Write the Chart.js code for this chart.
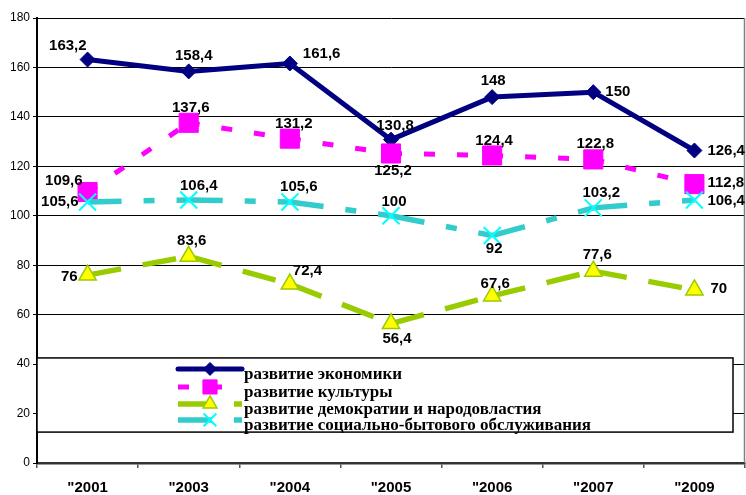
<!DOCTYPE html>
<html>
<head>
<meta charset="utf-8">
<script src="https://cdn.jsdelivr.net/npm/chart.js@4.4.1/dist/chart.umd.min.js"></script>
<style>
  html, body { margin: 0; padding: 0; background: #fff; }
  #wrap { width: 746px; height: 495px; position: relative; }
</style>
</head>
<body>
<div id="wrap"><canvas id="c" width="746" height="495"></canvas></div>
<script>
// ---- data ----
const categories = ['"2001', '"2003', '"2004', '"2005', '"2006', '"2007', '"2009'];
const seriesNames = [
  'развитие экономики',
  'развитие культуры',
  'развитие демократии и народовластия',
  'развитие социально-бытового обслуживания'
];
const economy   = [163.2, 158.4, 161.6, 130.8, 148, 150, 126.4];
const culture   = [109.6, 137.6, 131.2, 125.2, 124.4, 122.8, 112.8];
const democracy = [76, 83.6, 72.4, 56.4, 67.6, 77.6, 70];
const social    = [105.6, 106.4, 105.6, 100, 92, 103.2, 106.4];
const yTicks    = [0, 20, 40, 60, 80, 100, 120, 140, 160, 180];

// ---- label placement (style only: offset from point, alignment) ----
const placeEconomy   = [[-1,-13.5,'right'],[5,-16,'center'],[13,-10,'left'],[4,-14,'center'],[1,-16,'center'],[12,0,'left'],[13,0,'left']];
const placeCulture   = [[-5,-11,'right'],[2,-15,'center'],[4,-15,'center'],[2,17.5,'center'],[2,-14.5,'center'],[2,-15.5,'center'],[13,-1,'left']];
const placeDemocracy = [[-10,2,'right'],[3,-15,'center'],[3,-13,'left'],[6,15,'center'],[3,-12,'center'],[4,-16,'center'],[16,-1,'left']];
const placeSocial    = [[-9,0,'right'],[10,-14,'center'],[9,-15,'center'],[3,-14,'center'],[2,13.5,'center'],[8,-15,'center'],[13,1,'left']];
const placements = [placeEconomy, placeCulture, placeDemocracy, placeSocial];
const legendMarkerRadius = [6.5, 10, 8, 9];

const restartDash = { borderDashOffset: ctx => ctx.p0DataIndex * 0.001 };

const datasets = [
  { label: seriesNames[0], data: economy, borderColor: '#000080', backgroundColor: '#000080',
    borderWidth: 5, pointStyle: 'rectRot', pointRadius: 7.5, pointBorderColor: '#000080',
    pointBackgroundColor: '#000080', pointBorderWidth: 1, borderJoinStyle: 'round', order: 4 },
  { label: seriesNames[1], data: culture, borderColor: '#FF00FF', backgroundColor: '#FF00FF',
    borderWidth: 5, borderDash: [11, 22], borderCapStyle: 'butt', pointStyle: 'rect', pointRadius: 13.5,
    pointBorderColor: '#FF00FF', pointBackgroundColor: '#FF00FF', pointBorderWidth: 1, order: 3,
    segment: restartDash },
  { label: seriesNames[2], data: democracy, borderColor: '#99CC00', backgroundColor: '#FFFF00',
    borderWidth: 5.5, borderDash: [34, 22], borderCapStyle: 'butt', pointStyle: 'triangle', pointRadius: 10,
    pointBorderColor: '#99CC00', pointBackgroundColor: '#FFFF00', pointBorderWidth: 1.5, order: 2,
    segment: restartDash },
  { label: seriesNames[3], data: social, borderColor: '#33CCCC', backgroundColor: '#00FFFF',
    borderWidth: 5.5, borderDash: [34, 22, 11, 22], borderCapStyle: 'butt', pointStyle: 'crossRot', pointRadius: 12,
    pointBorderColor: '#00FFFF', pointBackgroundColor: '#00FFFF', pointBorderWidth: 2, order: 1,
    segment: restartDash }
];

const fmt = v => String(v).replace('.', ',');

const labelsPlugin = {
  id: 'valueLabels',
  afterDatasetsDraw(chart) {
    const ctx = chart.ctx;
    ctx.save();
    ctx.font = 'bold 15px "Liberation Sans", Arial, sans-serif';
    ctx.fillStyle = '#000';
    ctx.textBaseline = 'middle';
    chart.data.datasets.forEach((ds, di) => {
      const meta = chart.getDatasetMeta(di);
      meta.data.forEach((pt, i) => {
        const p = placements[di][i];
        ctx.textAlign = p[2];
        ctx.fillText(fmt(ds.data[i]), pt.x + p[0], pt.y + p[1]);
      });
    });
    ctx.restore();
  }
};

const frameLegendPlugin = {
  id: 'frameLegend',
  afterDatasetsDraw(chart) {
    const ctx = chart.ctx;
    const a = chart.chartArea;
    const ys = chart.scales.y;
    ctx.save();
    // right frame line
    ctx.strokeStyle = '#808080';
    ctx.lineWidth = 1.5;
    ctx.beginPath();
    ctx.moveTo(a.right - 0.5, a.top);
    ctx.lineTo(a.right - 0.5, a.bottom);
    ctx.stroke();

    // legend box
    const bx = a.left, bx2 = a.right - 12;
    const by = ys.getPixelForValue(42.5), by2 = ys.getPixelForValue(12.5);
    ctx.fillStyle = '#fff';
    ctx.fillRect(bx, by, bx2 - bx, by2 - by);
    ctx.strokeStyle = '#000';
    ctx.lineWidth = 1.5;
    ctx.strokeRect(bx, by, bx2 - bx, by2 - by);

    const sx0 = bx + 141, sx1 = bx + 205, mx = bx + 173;
    const rowY = [by + 11, by + 29, by + 46, by + 62];
    chart.data.datasets.forEach((ds, di) => {
      const y = rowY[di];
      ctx.save();
      ctx.strokeStyle = ds.borderColor;
      ctx.lineWidth = ds.borderWidth;
      ctx.lineCap = di === 0 ? 'round' : 'butt';
      ctx.setLineDash(ds.borderDash || []);
      ctx.beginPath();
      ctx.moveTo(sx0, y);
      ctx.lineTo(sx1, y);
      ctx.stroke();
      ctx.restore();

      ctx.save();
      ctx.fillStyle = ds.pointBackgroundColor;
      ctx.strokeStyle = ds.pointBorderColor;
      ctx.lineWidth = ds.pointBorderWidth;
      ctx.setLineDash([]);
      Chart.helpers.drawPoint(ctx, {
        pointStyle: ds.pointStyle,
        radius: legendMarkerRadius[di],
        borderWidth: ds.pointBorderWidth,
        rotation: 0
      }, mx, y);
      ctx.restore();

      ctx.fillStyle = '#000';
      ctx.font = 'bold 17px "Liberation Serif", "Times New Roman", serif';
      ctx.textAlign = 'left';
      ctx.textBaseline = 'alphabetic';
      ctx.fillText(ds.label, bx + 207, y + 10);
    });
    ctx.restore();
  }
};

const chart = new Chart(document.getElementById('c'), {
  type: 'line',
  data: { labels: categories, datasets },
  options: {
    responsive: false,
    animation: false,
    layout: { autoPadding: false, padding: { top: 18, right: 1, left: 0, bottom: 0 } },
    elements: { line: { tension: 0, fill: false } },
    plugins: { legend: { display: false }, tooltip: { enabled: false } },
    scales: {
      x: {
        offset: true,
        grid: { offset: true, drawOnChartArea: false, drawTicks: true, tickLength: 5, color: '#555', lineWidth: 1.5 },
        border: { display: true, color: '#333', width: 2.5 },
        ticks: { color: '#000', padding: 11, font: { family: '"Liberation Sans", Arial, sans-serif', size: 15, weight: 'bold' } },
        afterFit: s => { s.height = 32; }
      },
      y: {
        min: 0, max: 180,
        afterBuildTicks: s => { s.ticks = yTicks.map(v => ({ value: v })); },
        grid: { color: '#000', lineWidth: 1, tickLength: 4, drawTicks: true },
        border: { display: true, color: '#000', width: 2 },
        ticks: { color: '#000', padding: 3, font: { family: '"Liberation Sans", Arial, sans-serif', size: 12 } },
        afterFit: s => { s.width = 37; }
      }
    }
  },
  plugins: [frameLegendPlugin, labelsPlugin]
});
</script>
</body>
</html>
